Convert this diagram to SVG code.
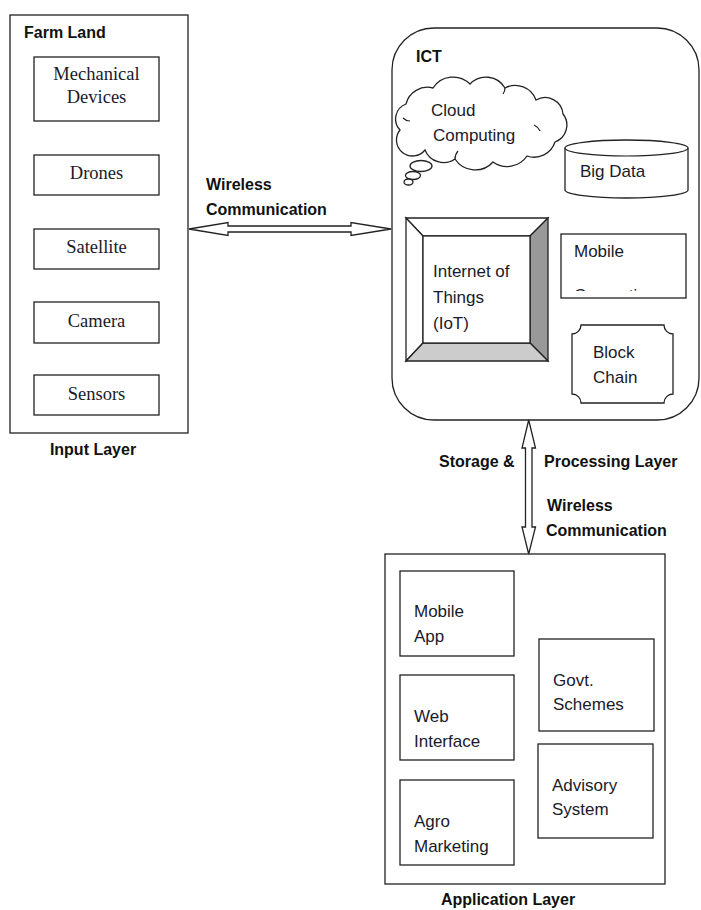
<svg xmlns="http://www.w3.org/2000/svg" width="701" height="910" viewBox="0 0 701 910">
<style>
.box{fill:#fff;stroke:#222;stroke-width:1.3}
.ln{fill:none;stroke:#222;stroke-width:1.2}
.ser{font-family:"Liberation Serif","Times New Roman",serif;font-size:18.5px;fill:#1a1a2a;text-anchor:middle}
.txt{font-family:"Liberation Sans",Arial,sans-serif;font-size:17px;fill:#1a1a2a}
.lbl{font-family:"Liberation Sans",Arial,sans-serif;font-size:16px;font-weight:bold;fill:#111}
</style>
<defs>
<clipPath id="mcClip"><rect x="561" y="234" width="125" height="57"/></clipPath>
</defs>
<g id="input-layer">
<rect class="box" x="10" y="15" width="178" height="418"/>
<text class="lbl" x="24" y="38">Farm Land</text>
<text class="lbl" x="93" y="455" text-anchor="middle">Input Layer</text>
</g>
<g id="mechanical"><rect class="box" x="34" y="57" width="125" height="64"/><text class="ser" x="96.5" y="80">Mechanical</text><text class="ser" x="96.5" y="103">Devices</text></g>
<g id="drones"><rect class="box" x="34" y="155" width="125" height="40"/><text class="ser" x="96.5" y="179">Drones</text></g>
<g id="satellite"><rect class="box" x="34" y="229" width="125" height="40"/><text class="ser" x="96.5" y="253">Satellite</text></g>
<g id="camera"><rect class="box" x="34" y="302" width="125" height="41"/><text class="ser" x="96.5" y="327">Camera</text></g>
<g id="sensors"><rect class="box" x="34" y="375" width="125" height="40"/><text class="ser" x="96.5" y="400">Sensors</text></g>

<g id="ict">
<rect class="box" x="392" y="28" width="307" height="392" rx="42" ry="42"/>
<text class="lbl" x="416" y="62">ICT</text>
</g>
<g id="cloud">
<path class="box" d="M400,130 A16,16 0 0 1 406,104 A22,22 0 0 1 433,88 A24,24 0 0 1 470,84 A22,22 0 0 1 505,88 A22,22 0 0 1 536,100 A18,18 0 0 1 563,114 A18,18 0 0 1 555,142 A22,22 0 0 1 527,156 A24,24 0 0 1 493,162 A24,24 0 0 1 455,159 A20,20 0 0 1 425,150 A16,16 0 0 1 400,130 Z"/>
<path class="ln" d="M403,118 A10,10 0 0 0 410,121"/>
<path class="ln" d="M534,125 A12,12 0 0 1 540,131"/>
<path class="ln" d="M455,159 A12,12 0 0 1 458,151"/>
<path class="ln" d="M505,88 A10,10 0 0 1 503,94"/>
<ellipse class="box" cx="421" cy="166" rx="11" ry="5.5"/>
<ellipse class="box" cx="413" cy="175.5" rx="7.5" ry="4"/>
<ellipse class="box" cx="408.5" cy="182" rx="4.5" ry="3"/>
<text class="txt" x="431" y="116">Cloud</text>
<text class="txt" x="433" y="141">Computing</text>
</g>
<g id="bigdata">
<path class="box" d="M565,148 A61.5,8 0 0 1 688,148 V190 A61.5,8 0 0 1 565,190 Z"/>
<path class="ln" d="M565,148 A61.5,8 0 0 0 688,148"/>
<text class="txt" x="580" y="177">Big Data</text>
</g>
<g id="iot">
<polygon points="406,218 548,218 530,236 423,236" fill="#fff" stroke="#222" stroke-width="1.3"/>
<polygon points="406,218 423,236 423,343 406,361" fill="#fff" stroke="#222" stroke-width="1.3"/>
<polygon points="548,218 548,361 530,343 530,236" fill="#999" stroke="#222" stroke-width="1.3"/>
<polygon points="406,361 423,343 530,343 548,361" fill="#ccc" stroke="#222" stroke-width="1.3"/>
<rect class="box" x="423" y="236" width="107" height="107"/>
<text class="txt" x="433" y="277">Internet of</text>
<text class="txt" x="433" y="303">Things</text>
<text class="txt" x="433" y="329">(IoT)</text>
</g>
<g id="mobile-computing">
<rect class="box" x="561" y="234" width="125" height="64"/>
<text class="txt" x="574" y="257">Mobile</text>
<text class="txt" x="574" y="301" clip-path="url(#mcClip)">Computing</text>
</g>
<g id="blockchain">
<path class="box" d="M581,325 H664 A9,9 0 0 0 673,334 V394 A9,9 0 0 0 664,403 H581 A9,9 0 0 0 572,394 V334 A9,9 0 0 0 581,325 Z"/>
<text class="txt" x="593" y="358">Block</text>
<text class="txt" x="593" y="383">Chain</text>
</g>

<g id="application-layer">
<rect class="box" x="385" y="554" width="280" height="330"/>
<text class="lbl" x="508" y="905" text-anchor="middle">Application Layer</text>
</g>
<g id="mobile-app"><rect class="box" x="400" y="571" width="114" height="85"/><text class="txt" x="414" y="617">Mobile</text><text class="txt" x="414" y="642">App</text></g>
<g id="web-interface"><rect class="box" x="400" y="675" width="114" height="85"/><text class="txt" x="414" y="722">Web</text><text class="txt" x="414" y="747">Interface</text></g>
<g id="agro-marketing"><rect class="box" x="400" y="780" width="114" height="85"/><text class="txt" x="414" y="827">Agro</text><text class="txt" x="414" y="852">Marketing</text></g>
<g id="govt-schemes"><rect class="box" x="539" y="639" width="115" height="92"/><text class="txt" x="553" y="686">Govt.</text><text class="txt" x="553" y="710">Schemes</text></g>
<g id="advisory-system"><rect class="box" x="538" y="744" width="115" height="94"/><text class="txt" x="552" y="791">Advisory</text><text class="txt" x="552" y="815">System</text></g>

<g id="connectors">
<polygon class="box" points="189,229 228,222.5 228,226 351,226 351,222.5 391,229 351,235.5 351,232 228,232 228,235.5"/>
<text class="lbl" x="206" y="190">Wireless</text>
<text class="lbl" x="206" y="215">Communication</text>
<polygon class="box" points="528.7,420 535.5,448 532,448 532,527 535.5,527 528.7,554 522,527 525.5,527 525.5,448 522,448"/>
<text class="lbl" x="439" y="467">Storage &amp;</text>
<text class="lbl" x="544" y="467">Processing Layer</text>
<text class="lbl" x="547" y="511">Wireless</text>
<text class="lbl" x="546" y="536">Communication</text>
</g>
</svg>
